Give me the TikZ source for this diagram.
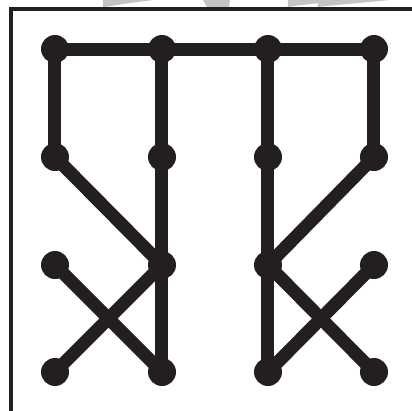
\documentclass[tikz,border=0pt]{standalone}
\definecolor{ink}{HTML}{231F20}
\definecolor{wm}{HTML}{C4C4C4}
\begin{document}
\begin{tikzpicture}[x=0.75pt,y=-0.75pt,
  edge/.style={draw=ink,line width=9.75pt,line cap=butt},
  dot/.style={circle,fill=ink,inner sep=0pt,minimum size=21pt},
  frame/.style={draw=ink,line width=3pt},
  wmark/.style={fill=wm,draw=none}]
\useasboundingbox (0,0) rectangle (412,411);
% watermark fragments
\fill[wmark] (103,0) -- (153,0) .. controls (130,3) and (115,5) .. (106,7) -- (103,7) -- cycle;
\fill[wmark] (203,0) -- (230,0) -- (229,7) -- (207,7) -- cycle;
\fill[wmark] (288,0) -- (345,0) .. controls (320,3) and (300,5) .. (288,7) -- cycle;
\fill[wmark] (318,0) -- (390,0) .. controls (360,3) and (335,5) .. (318,7) -- cycle;
% frame
\coordinate (fl) at (11.5,411);
\coordinate (fc) at (11.5,9);
\coordinate (fr) at (412,9);
\draw[frame] (fl) -- (fc) -- (fr);
% positions
\foreach \c/\x in {1/55,2/162,3/268,4/374}{
  \foreach \r/\y in {1/49,2/157,3/265,4/372}{
    \coordinate (p\c\r) at (\x,\y);
  }
}
% edges
\draw[edge] (p11) -- (p41);
\draw[edge] (p11) -- (p12);
\draw[edge] (p12) -- (p23);
\draw[edge] (p21) -- (p24);
\draw[edge] (p13) -- (p24);
\draw[edge] (p14) -- (p23);
\draw[edge] (p41) -- (p42);
\draw[edge] (p42) -- (p33);
\draw[edge] (p31) -- (p34);
\draw[edge] (p43) -- (p34);
\draw[edge] (p33) -- (p44);
% dots
\foreach \c in {1,2,3,4}{
  \foreach \r in {1,2,3,4}{
    \node[dot] (d\c\r) at (p\c\r) {};
  }
}
\end{tikzpicture}
\end{document}
